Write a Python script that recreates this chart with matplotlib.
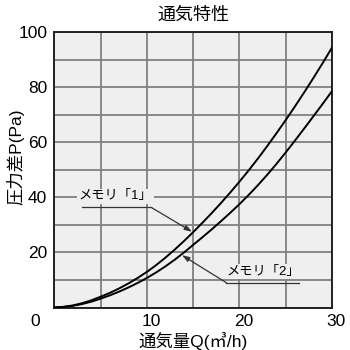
import numpy as np
import matplotlib.pyplot as plt
import matplotlib.transforms as mtransforms

plt.rcParams['font.family'] = ['Liberation Sans', 'Noto Sans CJK JP', 'DejaVu Sans']

# Przepływ Q [m3/h] i różnica ciśnień P [Pa]
q = list(range(0, 31))
p_mem1 = [0, 0.25, 0.75, 1.55, 2.6, 3.9, 5.3, 6.9, 8.7, 10.7, 12.9,
          15.35, 18.05, 20.95, 24.05, 27.3, 30.7, 34.2, 37.85, 41.65, 45.6,
          49.7, 54.0, 58.5, 63.15, 67.95, 72.9, 78.0, 83.25, 88.65, 94.2]
p_mem2 = [0, 0.2, 0.6, 1.25, 2.1, 3.2, 4.4, 5.75, 7.25, 8.9, 10.7,
          12.7, 14.9, 17.3, 19.9, 22.7, 25.45, 28.3, 31.25, 34.3, 37.45,
          40.8, 44.35, 48.1, 52.05, 56.2, 60.5, 64.9, 69.35, 73.85, 78.45]

x_ticks = [0, 10, 20, 30]
y_ticks = [20, 40, 60, 80, 100]

title = '通気特性'
xlabel = '通気量Q(㎥/h)'
ylabel = '圧力差P(Pa)'
label1 = 'メモリ「1」'
label2 = 'メモリ「2」'

bg = '#efefef'

fig = plt.figure(figsize=(3.5, 3.5), dpi=100)
ax = fig.add_axes([0.155, 0.1214, 0.793, 0.7872])
ax.set_facecolor(bg)

ax.plot(q, p_mem1, color='black', lw=1.4, zorder=3)
ax.plot(q, p_mem2, color='black', lw=1.4, zorder=3)

ax.set_xlim(0, 30)
ax.set_ylim(0, 100)
ax.set_xticks(np.arange(0, 31, 5))
ax.set_yticks(np.arange(0, 101, 10))
ax.grid(True, color='#808080', lw=1.3, zorder=1)
ax.set_axisbelow(True)

# etykiety osi tylko co 10 / co 20
ax.set_xticklabels([str(v) if v in x_ticks else '' for v in np.arange(0, 31, 5)])
ax.set_yticklabels([str(v) if v in y_ticks else '' for v in np.arange(0, 101, 10)])
ax.tick_params(length=0, labelsize=12.5, pad=5)

# przesunięcie etykiet osi X (zero w rogu)
for lab, v in zip(ax.get_xticklabels(), np.arange(0, 31, 5)):
    dx = -14 / 72 if v == 0 else 3 / 72
    off = mtransforms.ScaledTranslation(dx, 0, fig.dpi_scale_trans)
    lab.set_transform(lab.get_transform() + off)

for s in ax.spines.values():
    s.set_linewidth(1.4)
    s.set_color('#222222')

ax.set_title(title, fontsize=13, pad=9)
ax.set_xlabel(xlabel, fontsize=12.5, labelpad=2)
ax.set_ylabel(ylabel, fontsize=12.5)
ax.yaxis.set_label_coords(-0.108, 0.546)

# opisy krzywych
ax.text(6.6, 40.3, label1, fontsize=9.5, ha='center', va='center', zorder=4,
        bbox=dict(facecolor=bg, edgecolor='none', pad=1))
ax.plot([3.0, 10.5], [36.3, 36.3], color='#333333', lw=0.9, zorder=4)
ax.annotate('', xy=(14.9, 27.5), xytext=(10.5, 36.3),
            arrowprops=dict(arrowstyle='-|>,head_length=0.45,head_width=0.15',
                            color='#333333', lw=0.9, shrinkA=0, shrinkB=0), zorder=4)

ax.text(22.6, 13.0, label2, fontsize=9.5, ha='center', va='center', zorder=4,
        bbox=dict(facecolor=bg, edgecolor='none', pad=1))
ax.plot([18.6, 26.5], [9.0, 9.0], color='#333333', lw=0.9, zorder=4)
ax.annotate('', xy=(13.8, 19.0), xytext=(18.6, 9.0),
            arrowprops=dict(arrowstyle='-|>,head_length=0.45,head_width=0.15',
                            color='#333333', lw=0.9, shrinkA=0, shrinkB=0), zorder=4)

fig.savefig('out.png', dpi=100)
